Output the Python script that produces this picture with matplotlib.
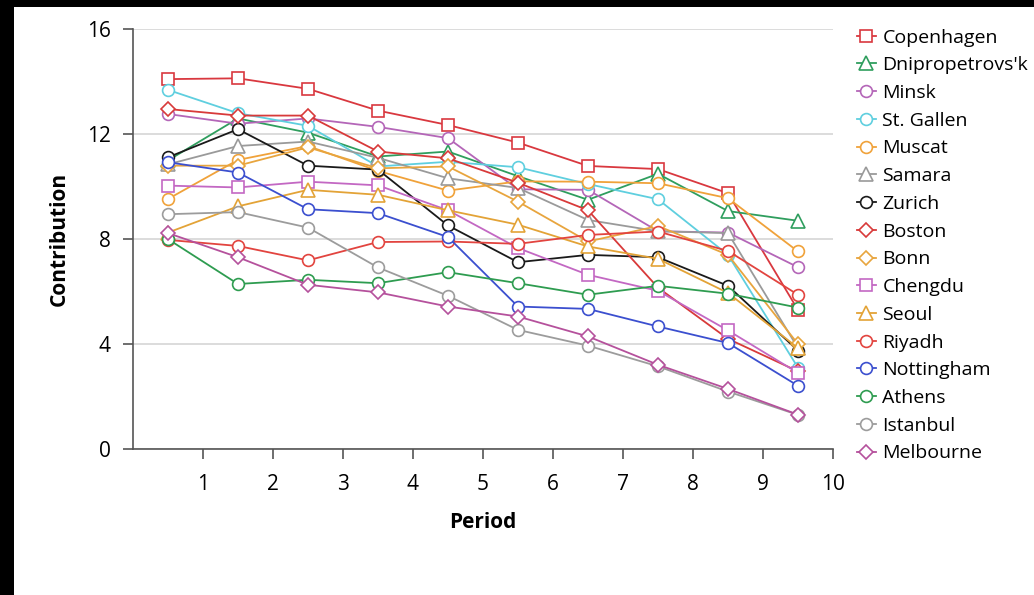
import matplotlib
matplotlib.use('Agg')
import matplotlib.pyplot as plt
from matplotlib.legend_handler import HandlerLine2D
from matplotlib.patches import Rectangle

plt.rcParams['font.family'] = ['Open Sans', 'DejaVu Sans']

# periods (bar centres between integer ticks)
periods = [0.5, 1.5, 2.5, 3.5, 4.5, 5.5, 6.5, 7.5, 8.5, 9.5]

cities = ['Copenhagen', "Dnipropetrovs'k", 'Minsk', 'St. Gallen', 'Muscat', 'Samara',
          'Zurich', 'Boston', 'Bonn', 'Chengdu', 'Seoul', 'Riyadh', 'Nottingham',
          'Athens', 'Istanbul', 'Melbourne']

copenhagen = [14.10, 14.13, 13.73, 12.90, 12.35, 11.68, 10.79, 10.67, 9.75, 5.30]
dnipro     = [11.00, 12.60, 12.06, 11.15, 11.34, 10.40, 9.50, 10.49, 9.07, 8.70]
minsk      = [12.77, 12.40, 12.60, 12.28, 11.85, 9.90, 9.88, 8.30, 8.25, 6.93]
st_gallen  = [13.69, 12.80, 12.32, 10.77, 10.95, 10.74, 10.10, 9.52, 7.40, 3.10]
muscat     = [9.53, 11.02, 11.55, 10.60, 9.85, 10.20, 10.19, 10.13, 9.56, 7.53]
samara     = [10.85, 11.55, 11.72, 11.10, 10.32, 9.95, 8.73, 8.30, 8.23, 3.85]
zurich     = [11.12, 12.19, 10.80, 10.65, 8.52, 7.12, 7.40, 7.31, 6.22, 3.75]
boston     = [12.96, 12.71, 12.71, 11.34, 11.08, 10.15, 9.10, 6.15, 4.20, 2.96]
bonn       = [10.80, 10.80, 11.50, 10.70, 10.77, 9.43, 7.91, 8.50, 7.40, 4.00]
chengdu    = [10.04, 9.97, 10.19, 10.05, 9.10, 7.66, 6.64, 6.03, 4.52, 2.90]
seoul      = [8.25, 9.25, 9.88, 9.69, 9.10, 8.55, 7.72, 7.25, 5.95, 3.85]
riyadh     = [7.97, 7.74, 7.19, 7.89, 7.91, 7.82, 8.16, 8.29, 7.55, 5.88]
nottingham = [10.93, 10.54, 9.14, 8.99, 8.08, 5.43, 5.34, 4.67, 4.04, 2.41]
athens     = [8.00, 6.29, 6.45, 6.32, 6.74, 6.32, 5.88, 6.22, 5.92, 5.39]
istanbul   = [8.95, 9.03, 8.44, 6.92, 5.84, 4.54, 3.94, 3.15, 2.19, 1.30]
melbourne  = [8.23, 7.31, 6.26, 5.97, 5.43, 5.05, 4.29, 3.21, 2.29, 1.31]

series = [copenhagen, dnipro, minsk, st_gallen, muscat, samara, zurich, boston,
          bonn, chengdu, seoul, riyadh, nottingham, athens, istanbul, melbourne]

colors = ['#d9383f', '#2f9e5e', '#b466b8', '#5fcfdf', '#f0a23a', '#9a9a9a',
          '#1a1a1a', '#d83a3a', '#e8a53e', '#c368c3', '#e3a337', '#e2443f',
          '#3b4fcf', '#2e9c50', '#9c9c9c', '#b5519c']
markers = ['s', '^', 'o', 'o', 'o', '^', 'o', 'D', 'D', 's', '^', 'o', 'o', 'o', 'o', 'D']


class EndMarkerHandler(HandlerLine2D):
    # line on the left, marker sitting at the right end
    def get_xdata(self, legend, xdescent, ydescent, width, height, fontsize):
        xdata = [-xdescent, -xdescent + width]
        return xdata, [-xdescent + width]


fig = plt.figure(figsize=(10.34, 5.95), dpi=100, facecolor='black')
fig.patches.append(Rectangle((14 / 1034, 0), 1, 1 - 7 / 595, transform=fig.transFigure,
                             facecolor='white', edgecolor='none', zorder=-10))
ax = fig.add_axes([0.1286, 0.2454, 0.677, 0.7054])
ax.set_facecolor('white')

for name, vals, c, m in zip(cities, series, colors, markers):
    ms = 8.5 if m in ('o', 's') else 9.5
    if m == 'D':
        ms = 7.5
    ax.plot(periods, vals, color=c, lw=1.3, marker=m, ms=ms, mfc='white',
            mec=c, mew=1.2, label=name)

ax.set_xlim(0, 10)
ax.set_ylim(0, 16)
ax.set_xticks(range(1, 11))
ax.set_yticks([0, 4, 8, 12, 16])
ax.grid(axis='y', color='#d6d6d6', lw=1.2)
ax.set_axisbelow(True)
for s in ['top', 'right']:
    ax.spines[s].set_visible(False)
for s in ['left', 'bottom']:
    ax.spines[s].set_color('#555555')
    ax.spines[s].set_linewidth(1.2)
ax.tick_params(axis='x', direction='out', length=7, width=1.2, color='#555555',
               pad=11, labelsize=15)
ax.tick_params(axis='y', direction='out', length=7, width=1.2, color='#555555',
               pad=9, labelsize=15)

ax.set_xlabel('Period', fontsize=15, fontweight='bold', labelpad=12)
ax.set_ylabel('Contribution', fontsize=15, fontweight='bold', labelpad=12)

handles, labels = ax.get_legend_handles_labels()
fig.legend(handles, labels, loc='upper left', bbox_to_anchor=(0.829, 0.952),
           frameon=False, fontsize=14, handlelength=0.95, handletextpad=0.35,
           labelspacing=0.5, borderpad=0, borderaxespad=0,
           handler_map={h: EndMarkerHandler() for h in handles})

fig.savefig('out.png', dpi=100, facecolor=fig.get_facecolor())
